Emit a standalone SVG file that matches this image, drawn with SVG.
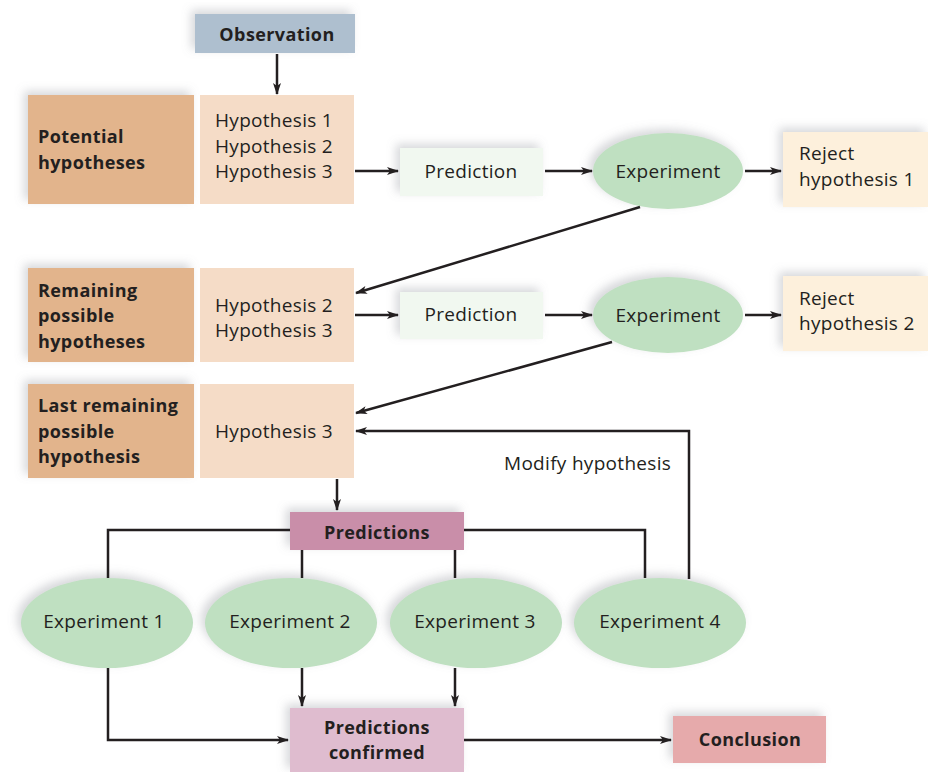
<svg xmlns="http://www.w3.org/2000/svg" width="928" height="772" viewBox="0 0 928 772">
<style>
text{font-family:"Open Sans",Lato,"Liberation Sans",sans-serif;fill:#231f20;font-size:19px;letter-spacing:0.3px}
.b{font-weight:bold;font-size:18px;letter-spacing:0.4px}
.c{text-anchor:middle}
.ln{fill:none;stroke:#231f20;stroke-width:2.5}
</style>
<defs>
<filter id="sh" x="-20%" y="-30%" width="140%" height="160%">
<feDropShadow dx="-4" dy="-4" stdDeviation="5" flood-color="#8a8f96" flood-opacity="0.35"/>
</filter>
<marker id="ah" viewBox="0 0 12 8" refX="11" refY="4" markerWidth="12" markerHeight="8" markerUnits="userSpaceOnUse" orient="auto">
<path d="M0,0 L12,4 L0,8 L3,4 z" fill="#231f20"/>
</marker>
</defs>

<g id="observation">
<rect x="195" y="14" width="160" height="39" fill="#aebfcf" filter="url(#sh)"/>
<text class="b c" x="277" y="41">Observation</text>
</g>

<g id="potential">
<rect x="28" y="95" width="166" height="109" fill="#e2b48c" filter="url(#sh)"/>
<rect x="200" y="95" width="154" height="109" fill="#f5dcc7"/>
<text class="b" x="38" y="143">Potential</text>
<text class="b" x="38" y="169">hypotheses</text>
<text x="215" y="127">Hypothesis 1</text>
<text x="215" y="153">Hypothesis 2</text>
<text x="215" y="178">Hypothesis 3</text>
</g>

<g id="prediction1">
<rect x="400" y="148" width="143" height="48" fill="#f1f8f0" filter="url(#sh)"/>
<text class="c" x="471" y="178">Prediction</text>
</g>
<g id="experiment1top">
<ellipse cx="668" cy="171" rx="75" ry="38" fill="#bfe0c1" filter="url(#sh)"/>
<text class="c" x="668" y="178">Experiment</text>
</g>
<g id="reject1">
<rect x="783" y="132" width="145" height="75" fill="#fdf0dc" filter="url(#sh)"/>
<text x="799" y="160">Reject</text>
<text x="799" y="186">hypothesis 1</text>
</g>

<g id="remaining">
<rect x="28" y="268" width="166" height="94" fill="#e2b48c" filter="url(#sh)"/>
<rect x="200" y="268" width="154" height="94" fill="#f5dcc7"/>
<text class="b" x="38" y="297">Remaining</text>
<text class="b" x="38" y="322">possible</text>
<text class="b" x="38" y="348">hypotheses</text>
<text x="215" y="312">Hypothesis 2</text>
<text x="215" y="337">Hypothesis 3</text>
</g>

<g id="prediction2">
<rect x="400" y="292" width="143" height="47" fill="#f1f8f0" filter="url(#sh)"/>
<text class="c" x="471" y="321">Prediction</text>
</g>
<g id="experiment2top">
<ellipse cx="668" cy="315" rx="75" ry="38" fill="#bfe0c1" filter="url(#sh)"/>
<text class="c" x="668" y="322">Experiment</text>
</g>
<g id="reject2">
<rect x="783" y="276" width="145" height="75" fill="#fdf0dc" filter="url(#sh)"/>
<text x="799" y="305">Reject</text>
<text x="799" y="330">hypothesis 2</text>
</g>

<g id="lastremaining">
<rect x="28" y="384" width="166" height="94" fill="#e2b48c" filter="url(#sh)"/>
<rect x="200" y="384" width="154" height="94" fill="#f5dcc7"/>
<text class="b" x="38" y="412">Last remaining</text>
<text class="b" x="38" y="438">possible</text>
<text class="b" x="38" y="463">hypothesis</text>
<text x="215" y="438">Hypothesis 3</text>
</g>

<g id="predictions">
<rect x="290" y="512" width="174" height="38" fill="#c98ea9" filter="url(#sh)"/>
<text class="b c" x="377" y="539">Predictions</text>
</g>

<g id="exp1">
<ellipse cx="107" cy="623" rx="86" ry="45" fill="#bfe0c1" filter="url(#sh)"/>
<text class="c" x="104" y="628">Experiment 1</text>
</g>
<g id="exp2">
<ellipse cx="291" cy="623" rx="86" ry="45" fill="#bfe0c1" filter="url(#sh)"/>
<text class="c" x="290" y="628">Experiment 2</text>
</g>
<g id="exp3">
<ellipse cx="476" cy="623" rx="86" ry="45" fill="#bfe0c1" filter="url(#sh)"/>
<text class="c" x="475" y="628">Experiment 3</text>
</g>
<g id="exp4">
<ellipse cx="660" cy="623" rx="86" ry="45" fill="#bfe0c1" filter="url(#sh)"/>
<text class="c" x="660" y="628">Experiment 4</text>
</g>

<g id="confirmed">
<rect x="290" y="708" width="174" height="64" fill="#dfbccf" filter="url(#sh)"/>
<text class="b c" x="377" y="734">Predictions</text>
<text class="b c" x="377" y="759">confirmed</text>
</g>

<g id="conclusion">
<rect x="673" y="716" width="153" height="47" fill="#e6aaab" filter="url(#sh)"/>
<text class="b c" x="750" y="746">Conclusion</text>
</g>

<text x="504" y="470">Modify hypothesis</text>

<g id="connectors">
<line class="ln" x1="277" y1="54" x2="277" y2="94" marker-end="url(#ah)"/>
<line class="ln" x1="355" y1="171" x2="398" y2="171" marker-end="url(#ah)"/>
<line class="ln" x1="545" y1="171" x2="592" y2="171" marker-end="url(#ah)"/>
<line class="ln" x1="745" y1="171" x2="781" y2="171" marker-end="url(#ah)"/>
<line class="ln" x1="640" y1="207" x2="356" y2="293" marker-end="url(#ah)"/>
<line class="ln" x1="355" y1="315" x2="398" y2="315" marker-end="url(#ah)"/>
<line class="ln" x1="545" y1="315" x2="592" y2="315" marker-end="url(#ah)"/>
<line class="ln" x1="745" y1="315" x2="781" y2="315" marker-end="url(#ah)"/>
<line class="ln" x1="612" y1="342" x2="356" y2="413" marker-end="url(#ah)"/>
<polyline class="ln" points="689,579 689,431 356,431" marker-end="url(#ah)"/>
<line class="ln" x1="337" y1="479" x2="337" y2="510" marker-end="url(#ah)"/>
<polyline class="ln" points="290,530 108,530 108,578"/>
<line class="ln" x1="302" y1="550" x2="302" y2="578"/>
<line class="ln" x1="455" y1="550" x2="455" y2="578"/>
<polyline class="ln" points="464,530 645,530 645,578"/>
<line class="ln" x1="302" y1="668" x2="302" y2="706" marker-end="url(#ah)"/>
<line class="ln" x1="455" y1="668" x2="455" y2="706" marker-end="url(#ah)"/>
<polyline class="ln" points="108,668 108,740 288,740" marker-end="url(#ah)"/>
<line class="ln" x1="464" y1="740" x2="671" y2="740" marker-end="url(#ah)"/>
</g>
</svg>
